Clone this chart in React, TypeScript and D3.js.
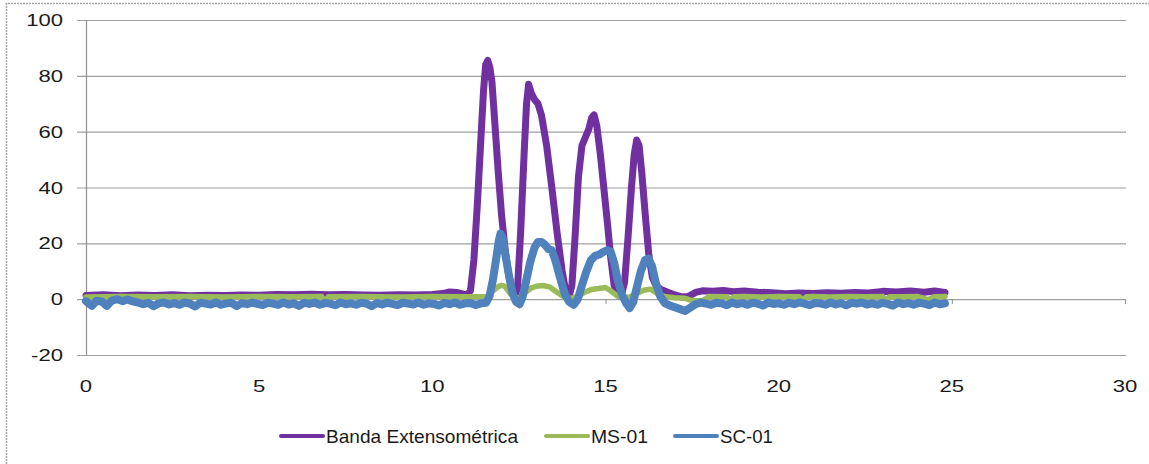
import React, { useRef, useEffect } from 'react';
import * as d3 from 'd3';

// Banda Extensométrica (purple)
const bandaT = [0, 0.5, 1.0, 1.5, 2.0, 2.5, 3.0, 3.5, 4.0, 4.5, 5.0, 5.5, 6.0, 6.5, 7.0, 7.5, 8.0, 8.5, 9.0, 9.5, 10.0, 10.3, 10.5, 10.7, 10.9, 11.0,
  11.1, 11.2, 11.3, 11.4, 11.48, 11.54, 11.6, 11.66, 11.72, 11.8, 11.9, 12.0, 12.1, 12.2, 12.3, 12.38,
  12.46, 12.55, 12.65, 12.72, 12.78, 12.85, 12.95, 13.05, 13.15, 13.3, 13.45, 13.6, 13.75, 13.85, 13.95,
  14.03, 14.12, 14.22, 14.32, 14.42, 14.52, 14.6, 14.67, 14.75, 14.85, 14.95, 15.05, 15.15, 15.25, 15.35, 15.45,
  15.55, 15.65, 15.75, 15.83, 15.9, 15.97, 16.05, 16.15, 16.25, 16.35, 16.45, 16.6, 16.8, 17.0, 17.2, 17.4,
  17.6, 17.8, 18.1, 18.4, 18.7, 19.0, 19.4, 19.8, 20.2, 20.6, 21.0, 21.4, 21.8, 22.2, 22.6, 23.0, 23.4, 23.8, 24.2, 24.5, 24.8];
const bandaV = [1.3, 1.6, 1.2, 1.5, 1.3, 1.6, 1.2, 1.4, 1.3, 1.5, 1.4, 1.7, 1.6, 1.8, 1.6, 1.7, 1.5, 1.4, 1.6, 1.5, 1.7, 2.0, 2.6, 2.4, 1.8, 1.6,
  3, 14, 34, 57, 75, 84, 85.5, 83, 78, 64, 46, 30, 18, 9, 3, 1,
  4, 24, 52, 70, 77, 74, 71.5, 70, 66, 55, 40, 24, 10, 3, 1,
  5, 22, 44, 55, 58, 61, 65, 66, 62, 52, 40, 28, 15, 5, 1.5, 1,
  6, 22, 40, 52, 57, 55, 45, 30, 16, 8, 5, 3.5, 2.5, 1.5, 0.8, 1.0,
  2.4, 3.0, 2.8, 3.1, 2.7, 2.9, 2.5, 2.3, 1.9, 2.2, 2.0, 2.3, 2.1, 2.4, 2.2, 2.8, 2.6, 2.9, 2.5, 2.9, 2.4];

// MS-01 (green)
const msT = [0, 1, 2, 3, 4, 5, 6, 6.8, 6.9, 7.0, 8, 9, 10, 11, 11.6, 11.75, 11.9, 12.0, 12.1, 12.25, 12.4, 12.55, 12.7, 12.85,
  13.0, 13.2, 13.4, 13.6, 13.8, 14.0, 14.2, 14.4, 14.6, 14.8, 15.0, 15.15, 15.3, 15.5, 15.7, 15.9, 16.1, 16.3, 16.5, 16.7,
  17.0, 17.3, 17.5, 17.8, 18.0, 18.5, 18.6, 18.7, 19, 19.5, 20.0, 20.6, 20.7, 20.8, 21, 21.5, 22, 22.5, 23, 23.1, 23.2, 23.5, 24, 24.3, 24.5, 24.8];
const msV = [0.8, 1.0, 0.9, 1.0, 0.8, 1.0, 0.9, 1.0, -0.8, 0.9, 1.0, 0.8, 1.0, 0.9, 1.0, 3, 4.5, 5, 4.5, 2, 0.5, 0.6, 2.5, 4,
  4.6, 4.9, 4.3, 2.5, 0.8, 0.3, 1, 2.5, 3.5, 3.8, 4.2, 3, 1.5, 0.5, 0.8, 2, 3.2, 3.6, 2, 1,
  0.5, 0.3, -0.5, -0.6, 1.0, 0.9, -0.3, 0.9, 1.0, 0.8, 1.0, 0.9, -0.4, 0.9, 1.0, 0.8, 1.0, 0.9, 1.0, -0.3, 0.9, 0.9, 1.0, -0.2, 0.9, 1.0];

// SC-01 (blue)
const scT = [0, 0.17, 0.3, 0.45, 0.6, 0.75, 0.9, 1.05, 1.2, 1.35,
  1.5, 1.65, 1.8, 1.95, 2.1, 2.25, 2.4, 2.55, 2.7, 2.85, 3.0, 3.15, 3.3, 3.45, 3.6, 3.75, 3.9, 4.05, 4.2, 4.35, 4.5, 4.65, 4.8, 4.95,
  5.1, 5.25, 5.4, 5.55, 5.7, 5.85, 6.0, 6.15, 6.3, 6.45, 6.6, 6.75, 6.9, 7.05, 7.2, 7.35, 7.5, 7.65, 7.8, 7.95, 8.1, 8.25, 8.4, 8.55,
  8.7, 8.85, 9.0, 9.15, 9.3, 9.45, 9.6, 9.75, 9.9, 10.05, 10.2, 10.35, 10.5, 10.65, 10.8, 10.95, 11.1, 11.25, 11.4,
  11.55, 11.65, 11.75, 11.85, 11.92, 11.97, 12.03, 12.12, 12.22, 12.32, 12.42, 12.52, 12.6, 12.7, 12.82, 12.95, 13.05,
  13.15, 13.25, 13.35, 13.45, 13.55, 13.68, 13.82, 13.95, 14.08, 14.2, 14.32, 14.45, 14.58, 14.7, 14.82, 14.95, 15.05, 15.15, 15.25,
  15.35, 15.48, 15.6, 15.7, 15.8, 15.9, 16.02, 16.14, 16.24, 16.34, 16.45, 16.58, 16.72, 16.9, 17.1, 17.3, 17.45,
  17.6, 17.75, 17.9, 18.05, 18.2, 18.35, 18.5, 18.65, 18.8, 18.95, 19.1, 19.25, 19.4, 19.55, 19.7, 19.85, 20.0, 20.15, 20.3, 20.45,
  20.6, 20.75, 20.9, 21.05, 21.2, 21.35, 21.5, 21.65, 21.8, 21.95, 22.1, 22.25, 22.4, 22.55, 22.7, 22.85, 23.0, 23.15, 23.3, 23.45,
  23.6, 23.75, 23.9, 24.05, 24.2, 24.35, 24.5, 24.65, 24.8];
const scV = [-0.7, -2.4, -0.6, -0.8, -2.4, -0.5, 0.0, -0.7, -0.1, -0.8,
  -1.2, -1.8, -1.3, -2.5, -1.5, -1.2, -1.9, -1.4, -2.0, -1.2, -1.6, -2.6, -1.3, -1.6, -1.9, -1.2, -2.0, -1.5, -1.3, -2.5, -1.4, -1.8, -1.2, -1.7,
  -2.1, -1.3, -1.6, -2.0, -1.2, -1.9, -1.5, -2.4, -1.3, -1.7, -1.2, -2.0, -1.4, -1.6, -2.2, -1.2, -1.8, -1.5, -2.0, -1.3, -1.6, -2.5, -1.4, -1.9,
  -1.2, -1.7, -2.1, -1.3, -1.6, -1.9, -1.2, -2.0, -1.5, -1.7, -2.3, -1.3, -1.8, -1.2, -2.0, -1.5, -1.4, -2.1, -1.5,
  -1.3, 1, 7, 15, 21, 23.5, 22, 15, 8, 2, -1, -1.8, 0.5, 6, 13, 18.5, 20.5,
  20.5, 19.5, 18, 17.5, 14, 8, 2, -1, -2, 0, 5, 10, 14, 15.5, 16, 17, 17.5, 17, 13,
  7, 1.5, -1.5, -3.2, -1, 4, 10, 14, 14.5, 12, 6, 1, -1.5, -2.5, -3.3, -4.2, -3.0,
  -1.8, -1.2, -1.6, -2.0, -1.3, -1.5, -2.2, -1.2, -1.8, -1.4, -2.0, -1.3, -1.6, -2.3, -1.2, -1.7, -1.5, -2.0, -1.3, -1.8,
  -1.2, -1.6, -2.1, -1.4, -1.5, -2.0, -1.2, -1.9, -1.4, -2.2, -1.3, -1.6, -1.2, -1.9, -1.5, -2.0, -1.3, -1.7, -2.3, -1.2,
  -1.8, -1.4, -2.0, -1.3, -1.6, -2.1, -1.2, -1.8, -1.5];

const xTicks = [0, 5, 10, 15, 20, 25, 30];
const yTicks = [-20, 0, 20, 40, 60, 80, 100];
const seriesNames = ['Banda Extensométrica', 'MS-01', 'SC-01'];
const seriesColors = ['#7030a0', '#9bbb59', '#4f81bd'];

const App = () => {
  const svgRef = useRef<SVGSVGElement>(null);

  useEffect(() => {
    const svg = d3.select(svgRef.current);
    svg.selectAll('*').remove();

    const width = 1149;
    const height = 464;
    const x = d3.scaleLinear().domain([0, 30]).range([86, 1125]);
    const y = d3.scaleLinear().domain([-20, 100]).range([355, 20]);

    svg.append('rect').attr('width', width).attr('height', height).attr('fill', '#fff');

    // outer frame (left + top edges visible)
    svg.append('path')
      .attr('d', `M6.5,${height} L6.5,3.5 L${width},3.5`)
      .attr('fill', 'none')
      .attr('stroke', '#a6a6a6')
      .attr('stroke-width', 1.5)
      .attr('stroke-dasharray', '2,1');

    // gridlines with left ticks
    svg.append('g').selectAll('line')
      .data(yTicks)
      .join('line')
      .attr('x1', 77)
      .attr('x2', x(30) + 1)
      .attr('y1', d => y(d) + 0.5)
      .attr('y2', d => y(d) + 0.5)
      .attr('stroke', '#a0a0a0')
      .attr('stroke-width', 1.2);

    // y axis line
    svg.append('line')
      .attr('x1', 86.5).attr('x2', 86.5)
      .attr('y1', y(100)).attr('y2', y(-20))
      .attr('stroke', '#909090')
      .attr('stroke-width', 1.2);

    // x axis at zero with small ticks
    svg.append('g').selectAll('line')
      .data(xTicks)
      .join('line')
      .attr('x1', d => x(d) + 0.5)
      .attr('x2', d => x(d) + 0.5)
      .attr('y1', y(0))
      .attr('y2', y(0) + 5)
      .attr('stroke', '#909090');

    // y tick labels
    svg.append('g').selectAll('text')
      .data(yTicks)
      .join('text')
      .attr('transform', d => `translate(63, ${y(d) + 6}) scale(1.3, 1)`)
      .attr('text-anchor', 'end')
      .attr('font-family', 'Liberation Sans, Arial, sans-serif')
      .attr('font-size', 17)
      .attr('fill', '#1a1a1a')
      .text(d => d);

    // x tick labels
    svg.append('g').selectAll('text')
      .data(xTicks)
      .join('text')
      .attr('transform', d => `translate(${x(d)}, 392) scale(1.3, 1)`)
      .attr('text-anchor', 'middle')
      .attr('font-family', 'Liberation Sans, Arial, sans-serif')
      .attr('font-size', 17)
      .attr('fill', '#1a1a1a')
      .text(d => d);

    // series (drawn in Excel order, SC-01 on top)
    const series = [
      { t: bandaT, v: bandaV, w: 7 },
      { t: msT, v: msV, w: 5.5 },
      { t: scT, v: scV, w: 8 },
    ];
    const line = d3.line<[number, number]>()
      .x(d => x(d[0]))
      .y(d => y(d[1]));

    series.forEach((s, i) => {
      const pts = s.t.map((t, j) => [t, s.v[j]] as [number, number]);
      svg.append('path')
        .datum(pts)
        .attr('d', line)
        .attr('fill', 'none')
        .attr('stroke', seriesColors[i])
        .attr('stroke-width', s.w)
        .attr('stroke-linejoin', 'round')
        .attr('stroke-linecap', 'round');
    });

    // legend
    const legendX = [281, 546, 675];
    const legendW = [192, 57, 53];
    const legend = svg.append('g');
    seriesNames.forEach((name, i) => {
      legend.append('line')
        .attr('x1', legendX[i]).attr('x2', legendX[i] + 42)
        .attr('y1', 436).attr('y2', 436)
        .attr('stroke', seriesColors[i])
        .attr('stroke-width', 4)
        .attr('stroke-linecap', 'round');
      legend.append('text')
        .attr('x', legendX[i] + 45)
        .attr('y', 443)
        .attr('font-family', 'Liberation Sans, Arial, sans-serif')
        .attr('font-size', 19)
        .attr('fill', '#1a1a1a')
        .attr('textLength', legendW[i])
        .attr('lengthAdjust', 'spacingAndGlyphs')
        .text(name);
    });
  }, []);

  return (
    <svg ref={svgRef} width={1149} height={464}
      style={{ position: 'absolute', left: 0, top: 0, display: 'block' }} />
  );
};

export default App;
